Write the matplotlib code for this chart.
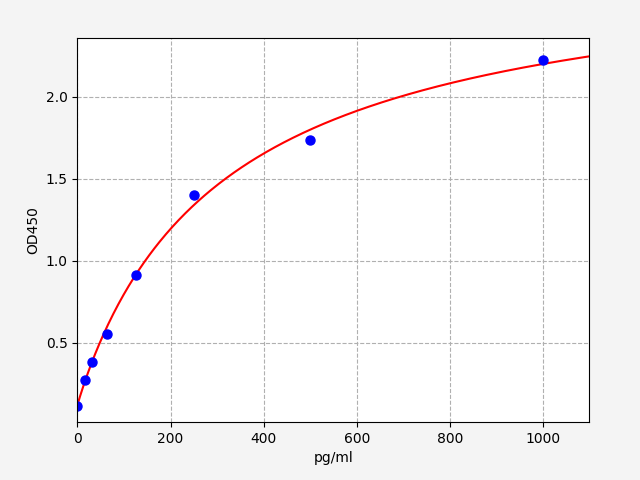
import numpy as np
import matplotlib
matplotlib.use("Agg")
import matplotlib.pyplot as plt

conc = [0, 15.6, 31.25, 62.5, 125, 250, 500, 1000]
od = [0.116, 0.274, 0.384, 0.555, 0.915, 1.398, 1.735, 2.221]


def fit_4pl(x, y):
    # grid over b, c; a and d by linear least squares
    x = np.asarray(x, float)
    y = np.asarray(y, float)
    best = None
    for b in np.linspace(0.5, 2.5, 201):
        for c in np.linspace(50, 3000, 296):
            g = 1.0 / (1.0 + (x / c) ** b)
            A = np.column_stack([g, 1 - g])
            coef, res, _, _ = np.linalg.lstsq(A, y, rcond=None)
            err = np.sum((A @ coef - y) ** 2)
            if best is None or err < best[0]:
                best = (err, coef[0], b, c, coef[1])
    return best[1:]


a, b, c, d = fit_4pl(conc, od)
xs = np.linspace(0, 1100, 400)
ys = d + (a - d) / (1 + (xs / c) ** b)

fig = plt.figure(figsize=(6.4, 4.8), dpi=100, facecolor='#f4f4f4')
ax = fig.add_axes([0.121, 0.121, 0.8, 0.8])
ax.plot(xs, ys, color='red', lw=1.5)
ax.plot(conc, od, 'o', color='blue', ms=6.5)
ax.set_xlim(0, 1100)
ax.set_ylim(0.016, 2.358)
ax.set_yticks([0.5, 1.0, 1.5, 2.0])
ax.grid(True, linestyle='--', color='#b0b0b0')
ax.set_xlabel('pg/ml')
ax.set_ylabel('OD450')
fig.savefig('out.png', dpi=100, facecolor=fig.get_facecolor())
